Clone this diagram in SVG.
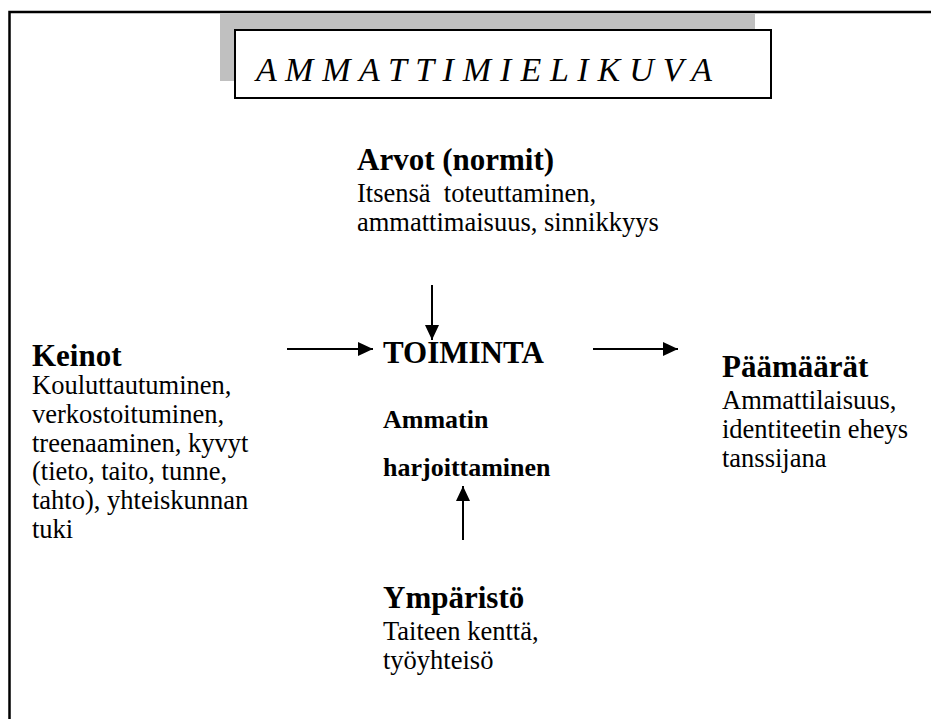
<svg xmlns="http://www.w3.org/2000/svg" width="931" height="719" viewBox="0 0 931 719">
<style>
  .body { font-family: "Liberation Serif", "Times New Roman", serif; font-size: 26.5px; fill: #000; }
  .head { font-family: "Liberation Serif", "Times New Roman", serif; font-size: 31px; font-weight: bold; fill: #000; }
  .sub { font-family: "Liberation Serif", "Times New Roman", serif; font-size: 26px; font-weight: bold; fill: #000; }
  .title { font-family: "Liberation Serif", "Times New Roman", serif; font-size: 34px; font-style: italic; fill: #000; }
  .conn { stroke: #000; stroke-width: 2; fill: none; }
</style>
<defs>
  <marker id="ah" markerUnits="userSpaceOnUse" markerWidth="16" markerHeight="14" refX="15" refY="7" orient="auto">
    <path d="M0,0 L15,7 L0,14 z" fill="#000"/>
  </marker>
</defs>
<rect x="0" y="0" width="931" height="719" fill="#fff"/>
<rect id="frame" x="9.5" y="12" width="940" height="720" fill="none" stroke="#000" stroke-width="2.5"/>
<g id="title">
  <rect x="220" y="13" width="535" height="68" fill="#c0c0c0"/>
  <rect x="235" y="30" width="536" height="68" fill="#fff" stroke="#000" stroke-width="2"/>
  <text class="title" x="256" y="81" textLength="456" lengthAdjust="spacing">A M M A T T I M I E L I K U V A</text>
</g>
<g id="arvot">
  <text class="head" x="357" y="170">Arvot (normit)</text>
  <text class="body" x="357" y="202" xml:space="preserve">Itsensä  toteuttaminen,</text>
  <text class="body" x="357" y="231">ammattimaisuus, sinnikkyys</text>
</g>
<g id="keinot">
  <text class="head" x="32" y="366">Keinot</text>
  <text class="body" x="32" y="394">Kouluttautuminen,</text>
  <text class="body" x="32" y="423">verkostoituminen,</text>
  <text class="body" x="32" y="452">treenaaminen, kyvyt</text>
  <text class="body" x="32" y="480">(tieto, taito, tunne,</text>
  <text class="body" x="32" y="509">tahto), yhteiskunnan</text>
  <text class="body" x="32" y="538">tuki</text>
</g>
<g id="toiminta">
  <text class="head" x="383" y="363">TOIMINTA</text>
  <text class="sub" x="383" y="428">Ammatin</text>
  <text class="sub" x="383" y="476">harjoittaminen</text>
</g>
<g id="paamaarat">
  <text class="head" x="722" y="377">Päämäärät</text>
  <text class="body" x="722" y="409">Ammattilaisuus,</text>
  <text class="body" x="722" y="438">identiteetin eheys</text>
  <text class="body" x="722" y="467">tanssijana</text>
</g>
<g id="ymparisto">
  <text class="head" x="383" y="608">Ympäristö</text>
  <text class="body" x="383" y="640">Taiteen kenttä,</text>
  <text class="body" x="383" y="669">työyhteisö</text>
</g>
<g id="connectors">
  <line class="conn" x1="432" y1="285" x2="432" y2="340" marker-end="url(#ah)"/>
  <line class="conn" x1="287" y1="349" x2="373" y2="349" marker-end="url(#ah)"/>
  <line class="conn" x1="593" y1="349" x2="678" y2="349" marker-end="url(#ah)"/>
  <line class="conn" x1="463" y1="540" x2="463" y2="486" marker-end="url(#ah)"/>
</g>
</svg>
